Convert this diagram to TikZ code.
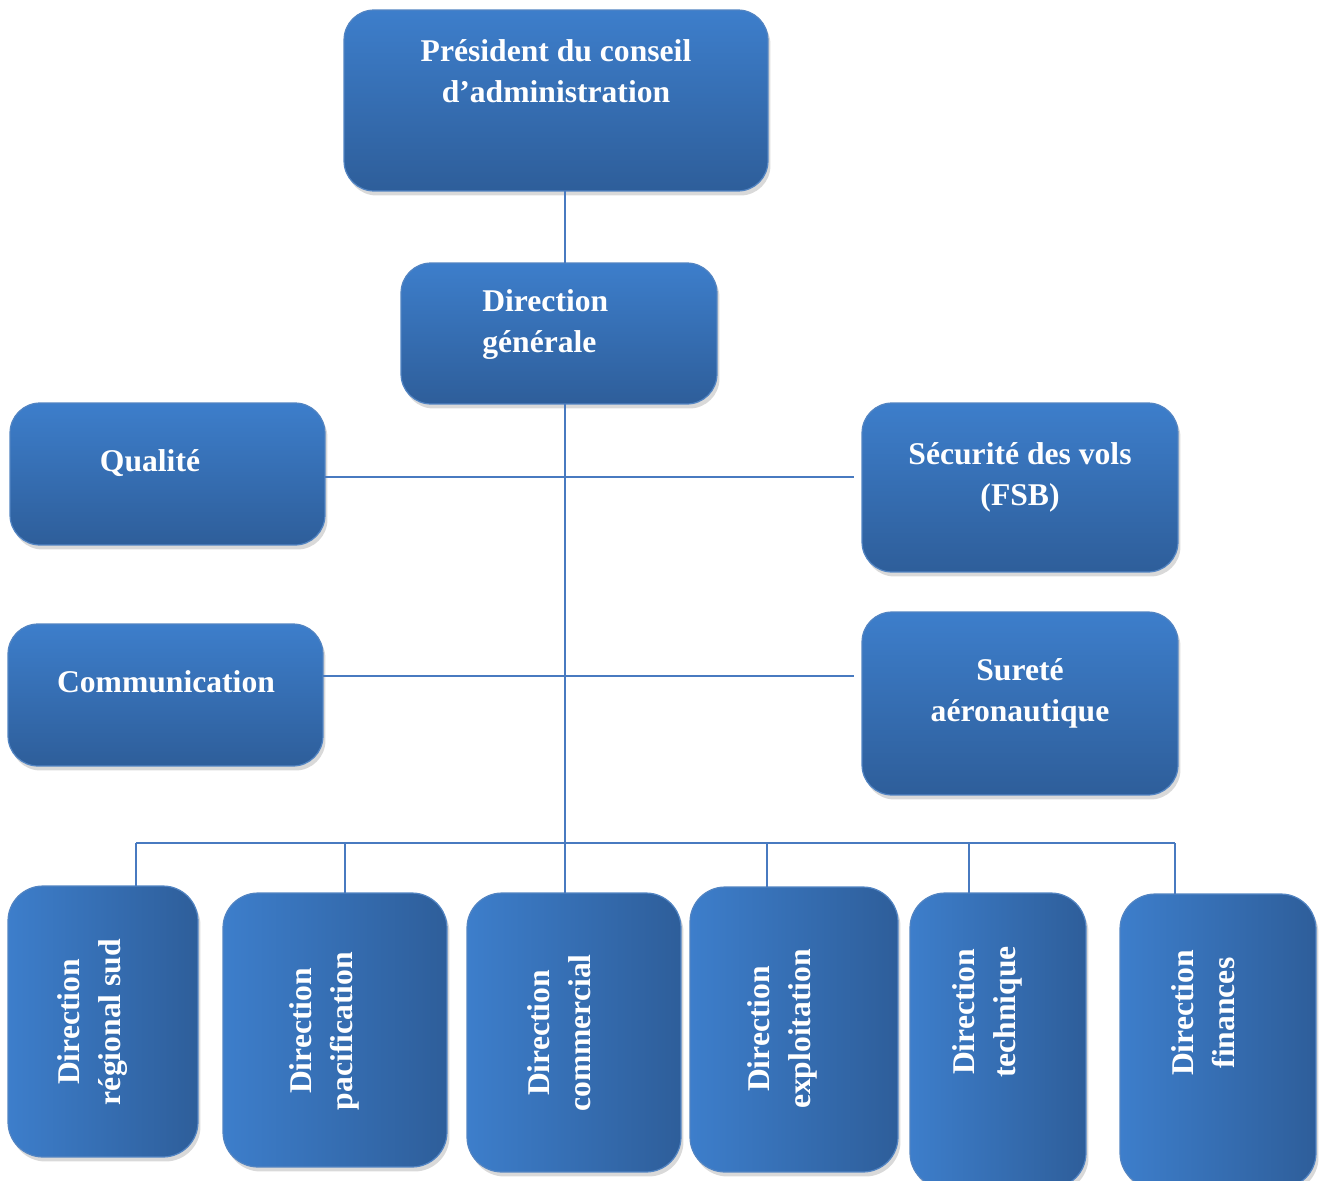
\documentclass[tikz,border=0pt]{standalone}
\usepackage{fontspec}
\setmainfont{Liberation Serif}
\usetikzlibrary{shadows}
\definecolor{boxtop}{RGB}{61,126,203}
\definecolor{boxbot}{RGB}{46,94,154}
\definecolor{boxline}{RGB}{82,132,194}
\definecolor{linkcol}{RGB}{72,122,192}

\begin{document}
\begin{tikzpicture}[x=0.02cm,y=-0.02cm,
  box/.style={rounded corners=0.6cm,draw=boxline,line width=0.7pt,top color=boxtop,bottom color=boxbot,inner sep=0pt,outer sep=0pt,drop shadow={shadow xshift=0.05cm,shadow yshift=-0.09cm,opacity=0.3}},
  vbox/.style={box,rounded corners=0.7cm,left color=boxtop,right color=boxbot},
  txt/.style={text=white,font=\fontsize{18}{23}\selectfont\bfseries,align=center,anchor=base,inner sep=0pt},
  vtxt/.style={txt,rotate=90},
  link/.style={draw=linkcol,line width=1pt}]
\useasboundingbox (0,0) rectangle (1325,1180);

\node[box,minimum width=8.48cm,minimum height=3.62cm] (pres) at (556,100.5) {};
\node[txt] (presT) at (556,102) {Président du conseil\\d’administration};

\node[box,minimum width=6.32cm,minimum height=2.82cm] (dg) at (559,333.5) {};
\node[txt,align=left,anchor=base west] (dgT) at (482,352) {Direction\\générale};

\node[box,minimum width=6.30cm,minimum height=2.84cm] (qual) at (167.5,474) {};
\node[txt] (qualT) at (150,471) {Qualité};

\node[box,minimum width=6.32cm,minimum height=3.38cm] (sec) at (1020,487.5) {};
\node[txt] (secT) at (1020,505) {Sécurité des vols\\(FSB)};

\node[box,minimum width=6.30cm,minimum height=2.84cm] (comm) at (165.5,695) {};
\node[txt] (commT) at (166,692) {Communication};

\node[box,minimum width=6.32cm,minimum height=3.66cm] (sur) at (1020,703.5) {};
\node[txt] (surT) at (1020,721) {Sureté\\aéronautique};

\node[vbox,minimum width=3.80cm,minimum height=5.42cm] (d1) at (103,1021.5) {};
\node[vtxt] (d1T) at (120,1022) {Direction\\régional sud};

\node[vbox,minimum width=4.48cm,minimum height=5.48cm] (d2) at (335,1030) {};
\node[vtxt] (d2T) at (352,1031) {Direction\\pacification};

\node[vbox,minimum width=4.28cm,minimum height=5.58cm] (d3) at (574,1032.5) {};
\node[vtxt] (d3T) at (590,1033) {Direction\\commercial};

\node[vbox,minimum width=4.16cm,minimum height=5.70cm] (d4) at (794,1029.5) {};
\node[vtxt] (d4T) at (810,1029) {Direction\\exploitation};

\node[vbox,minimum width=3.52cm,minimum height=5.90cm] (d5) at (998,1040.5) {};
\node[vtxt] (d5T) at (1015,1012) {Direction\\technique};

\node[vbox,minimum width=3.92cm,minimum height=5.88cm] (d6) at (1218,1041) {};
\node[vtxt] (d6T) at (1234,1013) {Direction\\finances};

\coordinate (k1) at (136,843);
\coordinate (k2) at (345,843);
\coordinate (k3) at (565,843);
\coordinate (k4) at (767,843);
\coordinate (k5) at (969,843);
\coordinate (k6) at (1175,843);
\coordinate (r1) at (565,477);
\coordinate (r2) at (565,676);

\draw[link] (pres.south -| k3) -- (dg.north -| k3);
\draw[link] (dg.south -| k3) -- (d3.north -| k3);
\draw[link,shorten >=0.16cm] (qual.east |- r1) -- (sec.west |- r1);
\draw[link,shorten >=0.16cm] (comm.east |- r2) -- (sur.west |- r2);
\draw[link] (k1) -- (k6);
\foreach \i in {1,2,4,5,6}
  \draw[link] (k\i) -- (d\i.north -| k\i);
\end{tikzpicture}
\end{document}
